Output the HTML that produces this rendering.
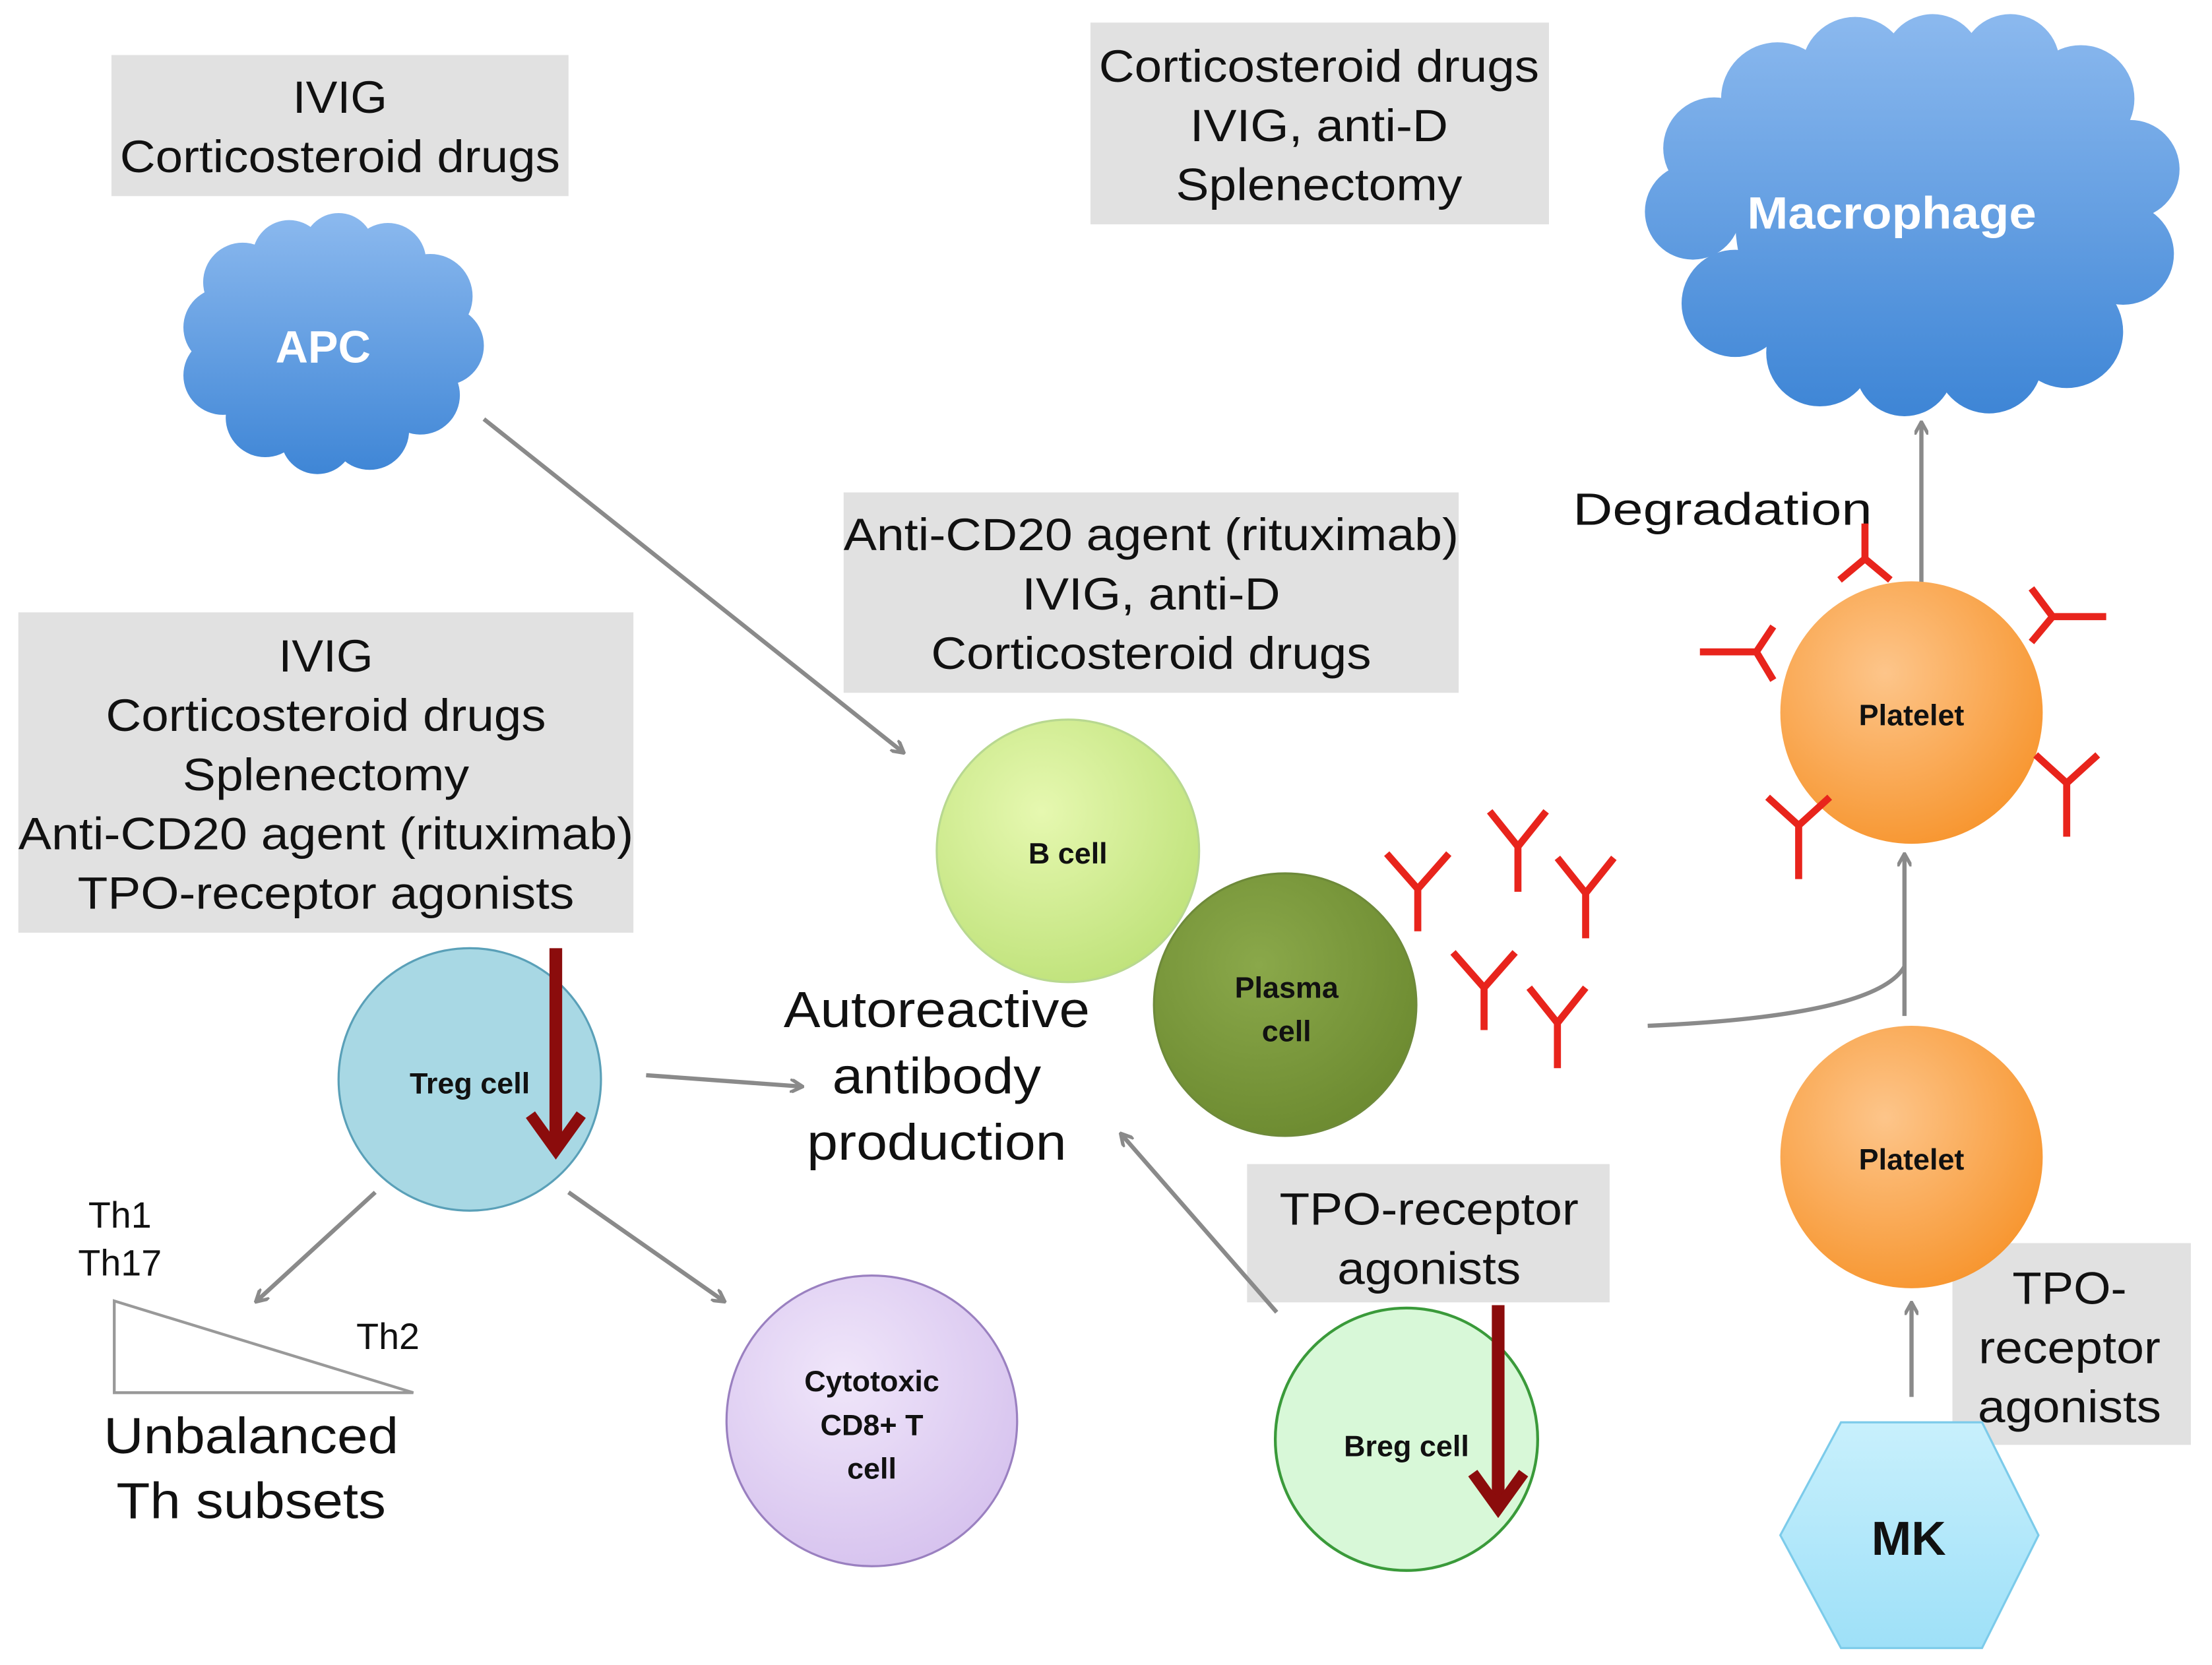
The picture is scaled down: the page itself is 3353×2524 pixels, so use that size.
<!DOCTYPE html>
<html><head><style>html,body{margin:0;padding:0;background:#fff}svg{display:block}</style></head>
<body>
<svg width="3353" height="2524" viewBox="0 0 1568 1180" preserveAspectRatio="none" xmlns="http://www.w3.org/2000/svg" font-family="Liberation Sans, sans-serif">
<defs>
<linearGradient id="cl1" gradientUnits="userSpaceOnUse" x1="0" y1="155" x2="0" y2="335"><stop offset="0" stop-color="#8ab8ee"/><stop offset="1" stop-color="#3f86d6"/></linearGradient>
<linearGradient id="cl2" gradientUnits="userSpaceOnUse" x1="0" y1="15" x2="0" y2="290"><stop offset="0" stop-color="#8ab8ee"/><stop offset="1" stop-color="#3f86d6"/></linearGradient>
<radialGradient id="bc" cx="0.4" cy="0.35" r="0.7"><stop offset="0" stop-color="#e6f8b0"/><stop offset="1" stop-color="#bfe27a"/></radialGradient>
<radialGradient id="pc" cx="0.4" cy="0.35" r="0.7"><stop offset="0" stop-color="#8aa84a"/><stop offset="1" stop-color="#6c8a30"/></radialGradient>
<radialGradient id="pl" cx="0.4" cy="0.35" r="0.7"><stop offset="0" stop-color="#fdc58a"/><stop offset="1" stop-color="#f7952e"/></radialGradient>
<radialGradient id="cy" cx="0.4" cy="0.35" r="0.7"><stop offset="0" stop-color="#f0e6fa"/><stop offset="1" stop-color="#d6c2ee"/></radialGradient>
<linearGradient id="mk" x1="0" y1="0" x2="0" y2="1"><stop offset="0" stop-color="#c8f0fc"/><stop offset="1" stop-color="#9ee0f8"/></linearGradient>
<marker id="ga" markerWidth="10" markerHeight="10" refX="8" refY="5" orient="auto" markerUnits="userSpaceOnUse"><path d="M0,0 L9,5 L0,10" fill="none" stroke="#8a8a8a" stroke-width="2.5"/></marker>
</defs>
<g fill="#e1e1e1">
<rect x="79" y="39" width="324" height="100"/>
<rect x="773" y="16" width="325" height="143"/>
<rect x="598" y="349" width="436" height="142"/>
<rect x="13" y="434" width="436" height="227"/>
<rect x="884" y="825" width="257" height="98"/>
<rect x="1384" y="881" width="169" height="143"/>
</g>
<g font-size="32" fill="#111" text-anchor="middle">
<text x="241" y="80" textLength="67" lengthAdjust="spacingAndGlyphs">IVIG</text><text x="241" y="122" textLength="312" lengthAdjust="spacingAndGlyphs">Corticosteroid drugs</text>
<text x="935" y="58" textLength="312" lengthAdjust="spacingAndGlyphs">Corticosteroid drugs</text><text x="935" y="100" textLength="183" lengthAdjust="spacingAndGlyphs">IVIG, anti-D</text><text x="935" y="142" textLength="203" lengthAdjust="spacingAndGlyphs">Splenectomy</text>
<text x="816" y="390" textLength="436" lengthAdjust="spacingAndGlyphs">Anti-CD20 agent (rituximab)</text><text x="816" y="432" textLength="183" lengthAdjust="spacingAndGlyphs">IVIG, anti-D</text><text x="816" y="474" textLength="312" lengthAdjust="spacingAndGlyphs">Corticosteroid drugs</text>
<text x="231" y="476" textLength="67" lengthAdjust="spacingAndGlyphs">IVIG</text><text x="231" y="518" textLength="312" lengthAdjust="spacingAndGlyphs">Corticosteroid drugs</text><text x="231" y="560" textLength="203" lengthAdjust="spacingAndGlyphs">Splenectomy</text><text x="231" y="602" textLength="436" lengthAdjust="spacingAndGlyphs">Anti-CD20 agent (rituximab)</text><text x="231" y="644" textLength="352" lengthAdjust="spacingAndGlyphs">TPO-receptor agonists</text>
<text x="1013" y="868" textLength="212" lengthAdjust="spacingAndGlyphs">TPO-receptor</text><text x="1013" y="910" textLength="130" lengthAdjust="spacingAndGlyphs">agonists</text>
<text x="1467" y="924" textLength="81" lengthAdjust="spacingAndGlyphs">TPO-</text><text x="1467" y="966" textLength="129" lengthAdjust="spacingAndGlyphs">receptor</text><text x="1467" y="1008" textLength="130" lengthAdjust="spacingAndGlyphs">agonists</text>
<text x="1221" y="372" textLength="212" lengthAdjust="spacingAndGlyphs">Degradation</text>
<text x="664" y="728" font-size="36" textLength="217" lengthAdjust="spacingAndGlyphs">Autoreactive</text><text x="664" y="775" font-size="36" textLength="148" lengthAdjust="spacingAndGlyphs">antibody</text><text x="664" y="822" font-size="36" textLength="184" lengthAdjust="spacingAndGlyphs">production</text>
<text x="178" y="1030" font-size="36" textLength="209" lengthAdjust="spacingAndGlyphs">Unbalanced</text><text x="178" y="1076" font-size="36" textLength="191" lengthAdjust="spacingAndGlyphs">Th subsets</text>
<text x="85" y="870" font-size="26">Th1</text><text x="85" y="904" font-size="26">Th17</text><text x="275" y="956" font-size="26">Th2</text>
</g>
<g fill="url(#cl1)">
<circle cx="158" cy="232" r="28"/><circle cx="172" cy="200" r="28"/><circle cx="205" cy="182" r="26"/><circle cx="240" cy="176" r="25"/><circle cx="275" cy="185" r="27"/><circle cx="305" cy="210" r="30"/><circle cx="315" cy="245" r="28"/><circle cx="298" cy="280" r="28"/><circle cx="262" cy="305" r="28"/><circle cx="225" cy="310" r="26"/><circle cx="188" cy="296" r="28"/><circle cx="158" cy="266" r="28"/><circle cx="235" cy="245" r="75"/>
</g>
<g fill="url(#cl2)">
<circle cx="1200" cy="150" r="34"/><circle cx="1215" cy="105" r="36"/><circle cx="1260" cy="70" r="40"/><circle cx="1315" cy="50" r="38"/><circle cx="1370" cy="45" r="35"/><circle cx="1425" cy="45" r="35"/><circle cx="1475" cy="70" r="38"/><circle cx="1510" cy="120" r="35"/><circle cx="1505" cy="180" r="36"/><circle cx="1465" cy="235" r="40"/><circle cx="1410" cy="255" r="38"/><circle cx="1350" cy="260" r="35"/><circle cx="1290" cy="250" r="38"/><circle cx="1230" cy="215" r="38"/><circle cx="1355" cy="155" r="125"/><circle cx="1460" cy="150" r="55"/>
</g>
<g font-weight="bold" fill="#fff" text-anchor="middle"><text x="229" y="257" font-size="32">APC</text><text x="1341" y="162" font-size="32" textLength="205" lengthAdjust="spacingAndGlyphs">Macrophage</text></g>
<g stroke="#8a8a8a" stroke-width="3" fill="none" marker-end="url(#ga)">
<line x1="343" y1="297" x2="640" y2="533"/>
<line x1="458" y1="762" x2="568" y2="770"/>
<line x1="266" y1="845" x2="182" y2="922"/>
<line x1="403" y1="845" x2="513" y2="922"/>
<line x1="905" y1="930" x2="795" y2="804"/>
<line x1="1355" y1="990" x2="1355" y2="924"/>
<line x1="1350" y1="720" x2="1350" y2="606"/>
<line x1="1362" y1="423" x2="1362" y2="300"/>
</g>
<path d="M1168,727 Q1330,720 1350,685" stroke="#8a8a8a" stroke-width="3" fill="none"/>
<polygon points="81,922 81,987 293,987" fill="#fff" stroke="#999" stroke-width="2"/>
<circle cx="757" cy="603" r="93" fill="url(#bc)" stroke="#b8d890" stroke-width="1.5"/>
<circle cx="911" cy="712" r="93" fill="url(#pc)" stroke="#6e8a3a" stroke-width="1.5"/>
<circle cx="333" cy="765" r="93" fill="#a8d8e4" stroke="#5aa0b8" stroke-width="1.5"/>
<circle cx="618" cy="1007" r="103" fill="url(#cy)" stroke="#9a80c0" stroke-width="1.5"/>
<circle cx="997" cy="1020" r="93" fill="#d8f8d8" stroke="#3a9a3a" stroke-width="2"/>
<circle cx="1355" cy="505" r="93" fill="url(#pl)"/>
<circle cx="1355" cy="820" r="93" fill="url(#pl)"/>
<polygon points="1305,1008 1405,1008 1445,1088 1405,1168 1305,1168 1262,1088" fill="url(#mk)" stroke="#7ccbea" stroke-width="1.5"/>
<g font-weight="bold" text-anchor="middle" font-size="21" fill="#111">
<text x="757" y="612">B cell</text>
<text x="912" y="707">Plasma</text><text x="912" y="738">cell</text>
<text x="333" y="775">Treg cell</text>
<text x="618" y="986">Cytotoxic</text><text x="618" y="1017">CD8+ T</text><text x="618" y="1048">cell</text>
<text x="997" y="1032">Breg cell</text>
<text x="1355" y="514">Platelet</text><text x="1355" y="829">Platelet</text>
<text x="1353" y="1102" font-size="34">MK</text>
</g>
<g stroke="#8b0c0c" fill="none" stroke-width="9">
<line x1="394" y1="672" x2="394" y2="812"/><path d="M376,790 L394,815 L412,790" stroke-width="8"/>
<line x1="1062" y1="925" x2="1062" y2="1066"/><path d="M1044,1044 L1062,1069 L1080,1044" stroke-width="8"/>
</g>
<g stroke="#e8241c" stroke-width="5" fill="none">
<g transform="translate(1005,630)"><path d="M0,0 L0,30 M0,0 L-22,-25 M0,0 L22,-25"/></g>
<g transform="translate(1076,600)"><path d="M0,0 L0,32 M0,0 L-20,-25 M0,0 L20,-25"/></g>
<g transform="translate(1124,633)"><path d="M0,0 L0,32 M0,0 L-20,-25 M0,0 L20,-25"/></g>
<g transform="translate(1052,700)"><path d="M0,0 L0,30 M0,0 L-22,-25 M0,0 L22,-25"/></g>
<g transform="translate(1104,725)"><path d="M0,0 L0,32 M0,0 L-20,-25 M0,0 L20,-25"/></g>
<g transform="translate(1322,396)"><path d="M0,0 L0,-25 M0,0 L-18,15 M0,0 L18,15"/></g>
<g transform="translate(1245,462)"><path d="M0,0 L-40,0 M0,0 L12,-18 M0,0 L12,20"/></g>
<g transform="translate(1455,437)"><path d="M0,0 L38,0 M0,0 L-15,-20 M0,0 L-15,18"/></g>
<g transform="translate(1275,585)"><path d="M0,0 L0,38 M0,0 L-22,-20 M0,0 L22,-20"/></g>
<g transform="translate(1465,555)"><path d="M0,0 L0,38 M0,0 L-22,-20 M0,0 L22,-20"/></g>
</g>
</svg>
</body></html>
